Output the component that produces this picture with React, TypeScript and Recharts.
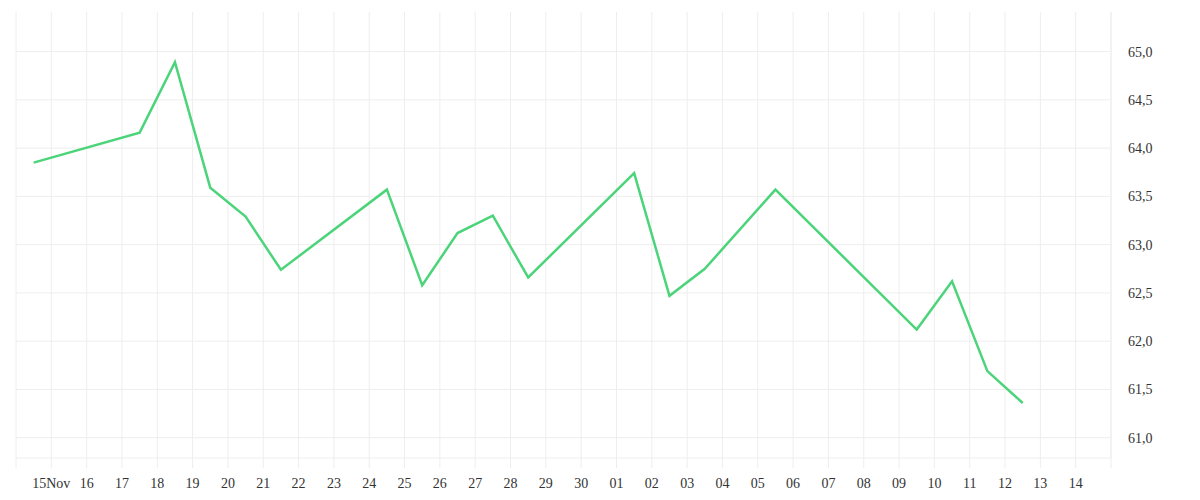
import { LineChart, Line, XAxis, YAxis, CartesianGrid, ReferenceLine } from 'recharts'

// day index 0 = 14 Nov 00:00, points sit at midday
const days = [0.5, 3.5, 4.5, 5.5, 6.5, 7.5, 10.5, 11.5, 12.5, 13.5, 14.5, 17.5, 18.5, 19.5, 21.5, 25.5, 26.5, 27.5, 28.5]
const values = [63.85, 64.16, 64.89, 63.59, 63.29, 62.74, 63.57, 62.58, 63.12, 63.3, 62.66, 63.74, 62.47, 62.75, 63.57, 62.12, 62.62, 61.69, 61.36]

const tickLabels = ['', '15Nov', '16', '17', '18', '19', '20', '21', '22', '23', '24', '25', '26', '27', '28', '29', '30',
  '01', '02', '03', '04', '05', '06', '07', '08', '09', '10', '11', '12', '13', '14', '']
const xTicks = tickLabels.map((_, i) => i)
const yTicks = [61, 61.5, 62, 62.5, 63, 63.5, 64, 64.5, 65]

const data = days.map((d, i) => ({ day: d, value: values[i] }))

export default function App() {
  return (
    <LineChart width={1184} height={484} data={data} margin={{ top: 4, right: 0, bottom: 4, left: 8 }}>
      <CartesianGrid stroke="#eeeeee" strokeWidth={1} horizontal={false} />
      {yTicks.map((t) => (
        <ReferenceLine key={t} y={t} stroke="#eeeeee" strokeWidth={1} />
      ))}
      <XAxis
        dataKey="day"
        type="number"
        domain={[0, 31]}
        ticks={xTicks}
        interval={0}
        tickFormatter={(v: number) => tickLabels[v] ?? ''}
        axisLine={{ stroke: '#eeeeee' }}
        tickLine={{ stroke: '#eeeeee' }}
        tickSize={10}
        tickMargin={10}
        height={30}
        tick={{ fill: '#333', fontSize: 14 }}
      />
      <YAxis
        orientation="right"
        type="number"
        domain={[60.79, 65.41]}
        ticks={yTicks}
        allowDataOverflow
        tickFormatter={(v: number) => v.toFixed(1).replace('.', ',')}
        axisLine={{ stroke: '#eeeeee' }}
        tickLine={false}
        tickSize={0}
        tickMargin={17}
        width={81}
        tick={{ fill: '#333', fontSize: 14 }}
      />
      <Line
        type="linear"
        dataKey="value"
        stroke="#4cd47a"
        strokeWidth={2.5}
        dot={false}
        isAnimationActive={false}
      />
    </LineChart>
  )
}
